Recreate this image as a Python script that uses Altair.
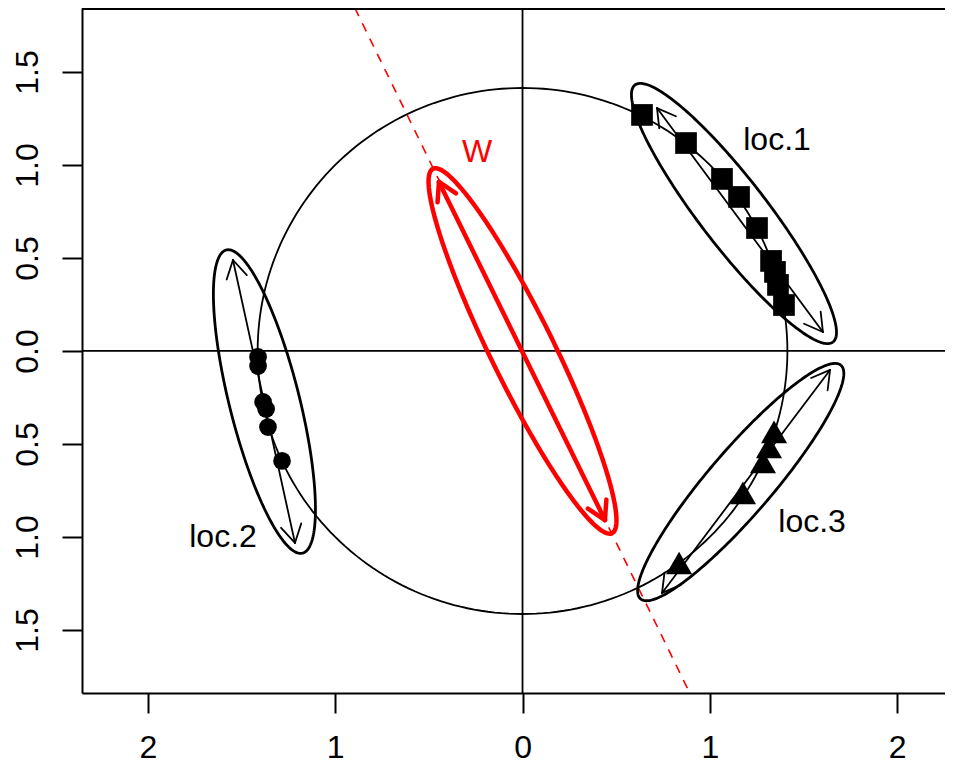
import numpy as np
import pandas as pd
import altair as alt

# ---------------- data ----------------
X_DOMAIN = [-2.352, 2.2557]
Y_DOMAIN = [-1.839, 1.844]
x_ticks = [-2, -1, 0, 1, 2]
y_ticks = [-1.5, -1.0, -0.5, 0.0, 0.5, 1.0, 1.5]

# points of the three groups
loc1_x = [0.638, 0.873, 1.065, 1.156, 1.252, 1.327, 1.348, 1.364, 1.396]
loc1_y = [1.269, 1.118, 0.925, 0.828, 0.661, 0.484, 0.425, 0.355, 0.247]
loc2_x = [-1.412, -1.412, -1.385, -1.369, -1.359, -1.284]
loc2_y = [-0.032, -0.081, -0.274, -0.312, -0.409, -0.591]
loc3_x = [1.343, 1.316, 1.284, 1.177, 0.836]
loc3_y = [-0.435, -0.516, -0.597, -0.763, -1.140]

# ellipses: centre, semi-axes, orientation (degrees)
ell_name = ["W", "loc.1", "loc.2", "loc.3"]
ell_cx = [0.0, 1.129, -1.378, 1.165]
ell_cy = [0.0, 0.739, -0.272, -0.705]
ell_a = [1.09, 0.870, 0.840, 0.825]
ell_b = [0.17, 0.180, 0.187, 0.172]
ell_angle = [-64.0, -52.6, -76.0, 49.6]
ell_color = ["#FF0000", "black", "black", "black"]
ell_width = [4.5, 2.8, 2.8, 2.8]

# double-headed arrows
arr_x0 = [-0.446, 0.718, -1.546, 1.642]
arr_y0 = [0.909, 1.306, 0.489, -0.102]
arr_x1 = [0.440, 1.604, -1.215, 0.745]
arr_y1 = [-0.909, 0.102, -1.032, -1.301]
arr_color = ["#FF0000", "black", "black", "black"]
arr_width = [4.5, 1.8, 1.8, 1.8]
head_len = 0.11
head_angle = 30.0

# labels
lab_text = ["W", "loc.1", "loc.2", "loc.3"]
lab_x = [-0.243, 1.359, -1.599, 1.546]
lab_y = [1.070, 1.134, -1.000, -0.919]
lab_color = ["#FF0000", "black", "black", "black"]

circle_r = np.sqrt(2.0)
w_slope = -2.06

FONT = "Liberation Sans, Arial, Helvetica, sans-serif"
FS = 32

# ---------------- build tables ----------------
t = np.linspace(0, 2 * np.pi, 241)
circle_df = pd.DataFrame({"x": circle_r * np.cos(t), "y": circle_r * np.sin(t), "i": np.arange(len(t))})

rows = []
for n, cx, cy, a, b, ang, c, w in zip(ell_name, ell_cx, ell_cy, ell_a, ell_b, ell_angle, ell_color, ell_width):
    th = np.deg2rad(ang)
    ex = cx + a * np.cos(t) * np.cos(th) - b * np.sin(t) * np.sin(th)
    ey = cy + a * np.cos(t) * np.sin(th) + b * np.sin(t) * np.cos(th)
    for k in range(len(t)):
        rows.append({"name": n, "x": ex[k], "y": ey[k], "i": k, "c": c, "w": w})
ell_df = pd.DataFrame(rows)

segs = []
ha = np.deg2rad(head_angle)
for x0, y0, x1, y1, c, w in zip(arr_x0, arr_y0, arr_x1, arr_y1, arr_color, arr_width):
    segs.append({"x": x0, "y": y0, "x2": x1, "y2": y1, "c": c, "w": w})
    for (px, py, qx, qy) in [(x0, y0, x1, y1), (x1, y1, x0, y0)]:
        dx, dy = px - qx, py - qy
        L = np.hypot(dx, dy)
        ux, uy = dx / L, dy / L
        for s in (ha, -ha):
            rx = ux * np.cos(s) - uy * np.sin(s)
            ry = ux * np.sin(s) + uy * np.cos(s)
            segs.append({"x": px, "y": py, "x2": px - head_len * rx, "y2": py - head_len * ry, "c": c, "w": w})
seg_df = pd.DataFrame(segs)

dash_df = pd.DataFrame({"x": [Y_DOMAIN[1] / w_slope], "y": [Y_DOMAIN[1]],
                        "x2": [Y_DOMAIN[0] / w_slope], "y2": [Y_DOMAIN[0]]})

sq_df = pd.DataFrame({"x": loc1_x, "y": loc1_y})
ci_df = pd.DataFrame({"x": loc2_x, "y": loc2_y})
tr_df = pd.DataFrame({"x": loc3_x, "y": loc3_y})
lab_df = pd.DataFrame({"x": lab_x, "y": lab_y, "t": lab_text, "c": lab_color})

# ---------------- scales / axes ----------------
xs = alt.Scale(domain=X_DOMAIN, nice=False, zero=False)
ys = alt.Scale(domain=Y_DOMAIN, nice=False, zero=False)
common_axis = dict(title=None, grid=False, tickSize=20, tickWidth=2, domainWidth=2,
                   tickColor="black", domainColor="black", labelColor="black",
                   labelFont=FONT, labelFontSize=FS, labelFlush=False,
                   labelOverlap=False, labelBound=False)
xaxis = alt.Axis(values=x_ticks, labelExpr="format(abs(datum.value), 'd')",
                 labelPadding=34, labelBaseline="middle", labelAlign="center", **common_axis)
yaxis = alt.Axis(values=y_ticks, labelExpr="format(abs(datum.value), '.1f')",
                 labelAngle=270, labelPadding=35, labelBaseline="middle", labelAlign="center",
                 **common_axis)

X = lambda f="x": alt.X(f"{f}:Q", scale=xs, axis=xaxis)
Y = lambda f="y": alt.Y(f"{f}:Q", scale=ys, axis=yaxis)

base_rule_h = alt.Chart(pd.DataFrame({"y": [0.0]})).mark_rule(color="black", strokeWidth=1.8).encode(y=Y())
base_rule_v = alt.Chart(pd.DataFrame({"x": [0.0]})).mark_rule(color="black", strokeWidth=1.8).encode(x=X())

circle = alt.Chart(circle_df).mark_line(color="black", strokeWidth=1.8).encode(x=X(), y=Y(), order="i:Q")

dashed = alt.Chart(dash_df).mark_rule(color="#FF0000", strokeWidth=1.6, strokeDash=[9, 8]).encode(
    x=X(), y=Y(), x2="x2:Q", y2="y2:Q")

ellipses = alt.Chart(ell_df).mark_line().encode(
    x=X(), y=Y(), order="i:Q", detail="name:N",
    color=alt.Color("c:N", scale=None),
    strokeWidth=alt.StrokeWidth("w:Q", scale=None))

arrows = alt.Chart(seg_df).mark_rule(strokeCap="round").encode(
    x=X(), y=Y(), x2="x2:Q", y2="y2:Q",
    color=alt.Color("c:N", scale=None),
    strokeWidth=alt.StrokeWidth("w:Q", scale=None))

squares = alt.Chart(sq_df).mark_point(shape="square", filled=True, size=470, color="black", opacity=1).encode(x=X(), y=Y())
circles = alt.Chart(ci_df).mark_point(shape="circle", filled=True, size=314, color="black", opacity=1).encode(x=X(), y=Y())
triangles = alt.Chart(tr_df).mark_point(shape="triangle-up", filled=True, size=680, color="black", opacity=1).encode(x=X(), y=Y())

labels = alt.Chart(lab_df).mark_text(font=FONT, fontSize=FS, align="center", baseline="middle").encode(
    x=X(), y=Y(), text="t:N", color=alt.Color("c:N", scale=None))

top_box = alt.Chart(pd.DataFrame({"k": [1]})).mark_rule(color="black", strokeWidth=2).encode(
    y=alt.value(1), x=alt.value(0), x2=alt.value(863))

chart = alt.layer(
    base_rule_h, base_rule_v, circle, dashed, ellipses, arrows,
    squares, circles, triangles, labels, top_box
).properties(
    width=863, height=685,
    autosize=alt.AutoSizeParams(type="none"),
    padding={"left": 74, "top": 0, "right": 0, "bottom": 70},
    background="white",
).configure_view(stroke=None)

chart.save("out.html", embed_options={"renderer": "svg", "actions": False})
